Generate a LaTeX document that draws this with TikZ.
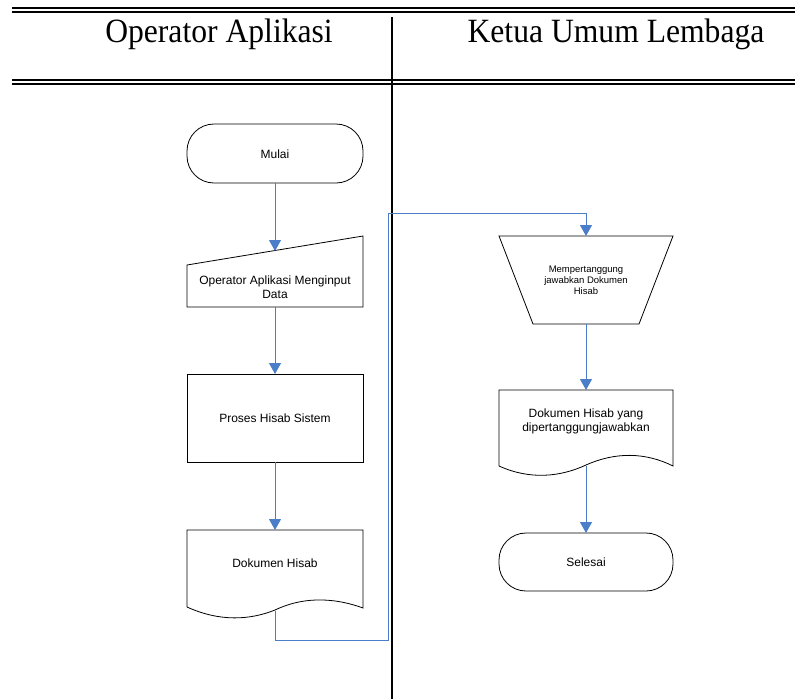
\documentclass[tikz,border=0pt]{standalone}
\usepackage{fontspec}
\setmainfont{Liberation Serif}
\setsansfont{Liberation Sans}
\usetikzlibrary{arrows.meta}
\definecolor{flowblue}{HTML}{4A7EC9}
\begin{document}
\begin{tikzpicture}[x=1pt,y=-1pt,
  hdr/.style={font=\fontsize{34}{34}\selectfont\rmfamily, inner sep=0pt, anchor=base, xscale=0.93},
  lbl/.style={font=\fontsize{12}{14}\selectfont\sffamily, align=center, inner sep=0pt},
  smalllbl/.style={font=\fontsize{9.5}{11}\selectfont\sffamily, align=center, inner sep=0pt},
  shapeline/.style={draw=black, line width=0.8pt},
  lane/.style={draw=black, line width=1.8pt},
  flow/.style={draw=flowblue, line width=1pt, -{Triangle[length=11pt,width=12pt]}}
]
\useasboundingbox (0,0) rectangle (795,699);
% lanes
\draw[lane] (12,8) -- (795,8);
\draw[lane] (12,12) -- (795,12);
\draw[lane] (12,80) -- (795,80);
\draw[lane] (12,84) -- (795,84);
\draw[lane] (392,17) -- (392,699);
\node[hdr] (h1) at (219,42.7) {Operator Aplikasi};
\node[hdr] (h2) at (616,42.7) {Ketua Umum Lembaga};

% Mulai
\draw[shapeline, rounded corners=27] (187,124) rectangle (363,183);
\node[lbl] (mulai) at (275,154) {Mulai};
\coordinate (mulaiB) at (275,183);
% manual input
\draw[shapeline] (187,265) -- (363,236) -- (363,307) -- (187,307) -- cycle;
\node[lbl] (input) at (275,287) {Operator Aplikasi Menginput\\Data};
\coordinate (inputT) at (275,251);
\coordinate (inputB) at (275,307);
% process
\draw[shapeline] (187,374) rectangle (363,462);
\node[lbl] (proses) at (275,418) {Proses Hisab Sistem};
\coordinate (prosesT) at (275,374);
\coordinate (prosesB) at (275,462);
% document 1
\draw[shapeline] (187,607) -- (187,530) -- (363,530) -- (363,608)
   .. controls (330,596) and (300,598) .. (275,610)
   .. controls (250,620) and (220,622) .. (187,607);
\node[lbl] (dok1) at (275,563) {Dokumen Hisab};
\coordinate (dok1T) at (275,530);
\coordinate (dok1B) at (275,611);
\coordinate (c1) at (275,640);
\coordinate (c2) at (388,640);
\coordinate (c3) at (388,213);
\coordinate (c4) at (586,213);

% trapezoid
\draw[shapeline] (499,236) -- (673,236) -- (639,324) -- (533,324) -- cycle;
\node[smalllbl] (tanggung) at (586,280) {Mempertanggung\\jawabkan Dokumen\\Hisab};
\coordinate (trapT) at (586,236);
\coordinate (trapB) at (586,324);
% document 2
\draw[shapeline] (499,466) -- (499,390) -- (673,390) -- (673,466)
   .. controls (645,452) and (615,452) .. (586,465)
   .. controls (560,477) and (530,480) .. (499,466);
\node[lbl] (dok2) at (586,421) {Dokumen Hisab yang\\dipertanggungjawabkan};
\coordinate (dok2T) at (586,390);
\coordinate (dok2B) at (586,466);
% Selesai
\draw[shapeline, rounded corners=27] (499,533) rectangle (673,591);
\node[lbl] (selesai) at (586,562) {Selesai};
\coordinate (selesaiT) at (586,533);

% connectors
\draw[flow] (mulaiB) -- (inputT);
\draw[flow] (inputB) -- (prosesT);
\draw[flow] (prosesB) -- (dok1T);
\draw[flow] (dok1B) -- (c1) -- (c2) -- (c3) -- (c4) -- (trapT);
\draw[flow] (trapB) -- (dok2T);
\draw[flow] (dok2B) -- (selesaiT);
\end{tikzpicture}
\end{document}
